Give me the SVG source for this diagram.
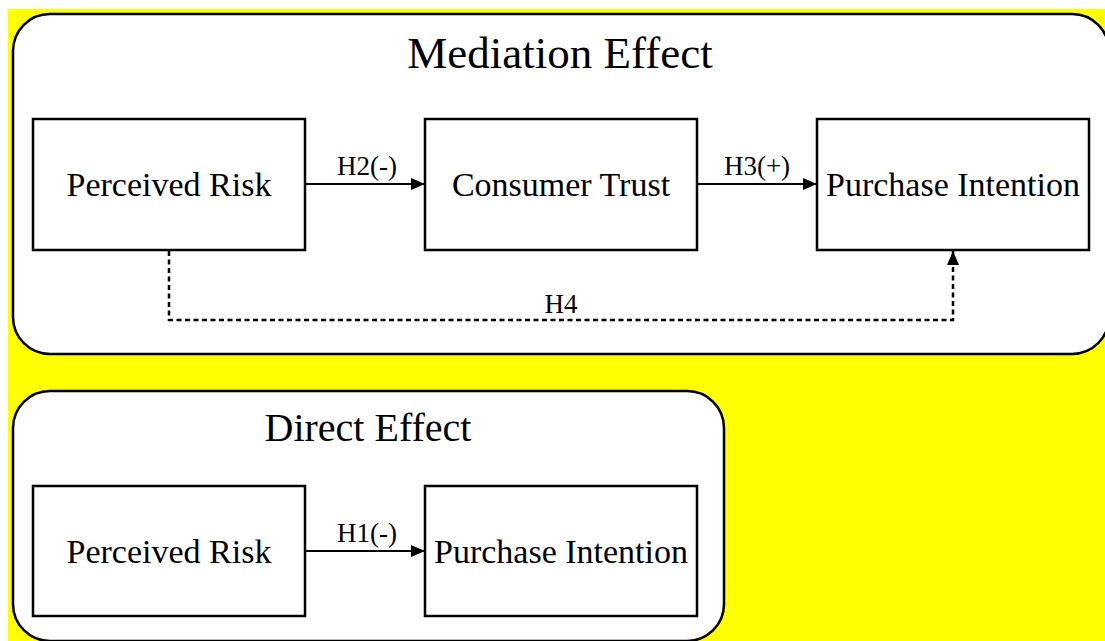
<svg xmlns="http://www.w3.org/2000/svg" width="1105" height="641" viewBox="0 0 1105 641">
<style>
.bg{fill:#ffff00}
.cont{fill:#fff;stroke:#000;stroke-width:2.5}
.box{fill:#fff;stroke:#000;stroke-width:2.5}
text{font-family:'Liberation Serif','DejaVu Serif',serif;fill:#000;text-anchor:middle}
.nt{font-size:34px}
.tt{font-size:40px}
.tm{font-size:45px}
.lb{font-size:27px}
.ar{fill:none;stroke:#000;stroke-width:2.2}
.da{fill:none;stroke:#000;stroke-width:2.5;stroke-dasharray:5 3.5}
</style>
<defs>
<marker id="ah" markerWidth="14" markerHeight="12" refX="14" refY="6" orient="auto" markerUnits="userSpaceOnUse">
<path d="M0,0 L14,6 L0,12 Z" fill="#000"/>
</marker>
</defs>
<rect x="8" y="9" width="1097" height="632" class="bg"/>
<g id="mediation">
<rect x="13" y="14" width="1096" height="340" rx="37" ry="37" class="cont"/>
<text x="560" y="68" class="tm" font-family="Liberation Serif, serif">Mediation Effect</text>
</g>
<g id="direct">
<rect x="13" y="391" width="711" height="250" rx="37" ry="37" class="cont"/>
<text x="368" y="441" class="tt" font-family="Liberation Serif, serif">Direct Effect</text>
</g>
<g id="risk1">
<rect x="33" y="119" width="272" height="131" class="box"/>
<text x="169" y="196" class="nt" font-family="Liberation Serif, serif">Perceived Risk</text>
</g>
<g id="trust">
<rect x="425" y="119" width="272" height="131" class="box"/>
<text x="561" y="196" class="nt" font-family="Liberation Serif, serif">Consumer Trust</text>
</g>
<g id="intent1">
<rect x="817" y="119" width="272" height="131" class="box"/>
<text x="953" y="196" class="nt" font-family="Liberation Serif, serif">Purchase Intention</text>
</g>
<g id="risk2">
<rect x="33" y="486" width="272" height="130" class="box"/>
<text x="169" y="563" class="nt" font-family="Liberation Serif, serif">Perceived Risk</text>
</g>
<g id="intent2">
<rect x="425" y="486" width="272" height="130" class="box"/>
<text x="561" y="563" class="nt" font-family="Liberation Serif, serif">Purchase Intention</text>
</g>
<g id="connectors">
<line x1="305" y1="184" x2="425" y2="184" class="ar" marker-end="url(#ah)"/>
<text x="367" y="175" class="lb" font-family="Liberation Serif, serif">H2(-)</text>
<line x1="697" y1="184" x2="817" y2="184" class="ar" marker-end="url(#ah)"/>
<text x="757" y="175" class="lb" font-family="Liberation Serif, serif">H3(+)</text>
<polyline points="169,251 169,320 953,320 953,251" class="da" marker-end="url(#ah)"/>
<text x="561" y="313" class="lb" font-family="Liberation Serif, serif">H4</text>
<line x1="305" y1="551" x2="425" y2="551" class="ar" marker-end="url(#ah)"/>
<text x="367" y="542" class="lb" font-family="Liberation Serif, serif">H1(-)</text>
</g>
</svg>
